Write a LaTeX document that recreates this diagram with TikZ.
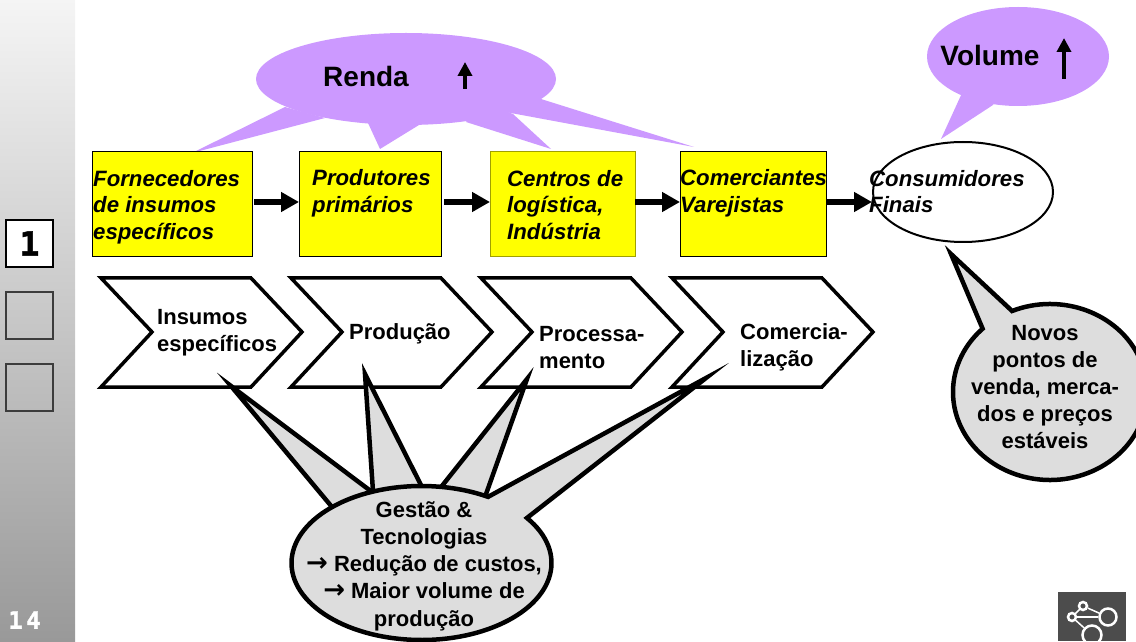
\documentclass[tikz,border=0pt]{standalone}
\usepackage{fontspec}
\setmainfont{Liberation Sans}
\newfontfamily\sidefont[BoldFeatures={FakeBold=1.5}]{DejaVu Sans Mono}
\newfontfamily\arrowfont{DejaVu Sans}
\usetikzlibrary{arrows.meta,calc,positioning,shapes.geometric}
\definecolor{balloon}{HTML}{CC99FF}
\definecolor{callout}{HTML}{DDDDDD}
\definecolor{sidedark}{HTML}{3C3C3C}
\definecolor{boxyellow}{HTML}{FFFF00}
\definecolor{boxolive}{HTML}{A0A000}
\tikzset{
	boxtext/.style = {anchor = west, inner sep = 0, align = left, font = \bfseries\itshape\fontsize{22.2}{26.5}\selectfont},
	plaintext/.style = {anchor = west, inner sep = 0, align = left, font = \bfseries\fontsize{22}{27}\selectfont},
	calltext/.style = {inner sep = 0, align = center, font = \bfseries\fontsize{22}{27.2}\selectfont},
	bigtext/.style = {inner sep = 0, font = \bfseries\fontsize{28}{30}\selectfont},
	yellowbox/.style = {rectangle, draw = black, line width = 1pt, fill = boxyellow, minimum height = 105pt, inner sep = 0, outer sep = 0},
	chevron/.style = {draw = black, line width = 3.5pt, fill = white, miter limit = 10},
	flow/.style = {line width = 6pt, -{Stealth[length = 18pt, width = 19pt, inset = 0pt]}},
	uparrow/.style = {line width = 4.5pt, -{Stealth[length = 14pt, width = 14pt, inset = 0pt]}},
	spikes/.style = {draw = black, line width = 4.5pt, fill = callout, miter limit = 40},
	sidebox/.style = {rectangle, draw = sidedark, line width = 1.5pt, minimum width = 47pt, minimum height = 47pt, inner sep = 0},
	logowheel/.style = {circle, draw = white, line width = 2.5pt, inner sep = 0}
}
\newcommand{\gestaopt}[1]{($(421.5,78)+(#1:130 and 77)$)}
\newcommand{\novospt}[1]{($(1050,249)+(#1:97 and 88)$)}
\newcommand{\bolddart}{{\arrowfont\bfseries\fontsize{26}{27}\selectfont →}}
\begin{document}
\begin{tikzpicture}[x = 1pt, y = 1pt]
	\useasboundingbox (0,0) rectangle (1136,641);
	\clip (0,0) rectangle (1136,641);
	\shade [top color = black!4, bottom color = black!40] (0,0) rectangle (75,641);
	\node (SideOne) [sidebox, draw = black, fill = white, font = \sidefont\bfseries\fontsize{33}{33}\selectfont] at (29.5,397.5) {1};
	\node (SideTwo) [sidebox, below of = SideOne, node distance = 72pt] {};
	\node (SideThree) [sidebox, below of = SideTwo, node distance = 72pt] {};
	\node (PageNumber) [text = white, font = \sidefont\bfseries\fontsize{24}{24}\selectfont] at (24.5,21) {1\kern3.5pt 4};

	\fill [balloon] (406,562) ellipse [x radius = 150, y radius = 46];
	\fill [balloon] (285,534) -- (192,488) -- (325,523) -- cycle;
	\fill [balloon] (368,518) -- (380,492) -- (419,516) -- (400,540) -- cycle;
	\fill [balloon] (466,519) -- (551,492) -- (513,527) -- (480,540) -- cycle;
	\fill [balloon] (500,530) -- (694,494) -- (541,542) -- cycle;
	\node (Renda) [bigtext] at (366,565) {Renda};
	\coordinate (RendaFrom) at (465,552);
	\coordinate (RendaTo) at (465,579);
	\draw [uparrow] (RendaFrom) -- (RendaTo);

	\fill [balloon] (1018,584.5) ellipse [x radius = 91, y radius = 49.5];
	\fill [balloon] (962,548) -- (941,502) -- (993,536) -- (1000,550) -- cycle;
	\node (Volume) [bigtext] at (990,586) {Volume};
	\coordinate (VolumeFrom) at (1064,562);
	\coordinate (VolumeTo) at (1064,603);
	\draw [uparrow] (VolumeFrom) -- (VolumeTo);

	\node (Fornecedores) [yellowbox, minimum width = 160pt] at (172,436.5) {};
	\node (Produtores) [yellowbox, minimum width = 142pt] at (370,436.5) {};
	\node (Centros) [yellowbox, draw = boxolive, minimum width = 145pt] at (562.5,436.5) {};
	\node (Comerciantes) [yellowbox, minimum width = 146pt] at (753,436.5) {};
	\node (Consumidores) [ellipse, draw = black, line width = 2pt, fill = white, minimum width = 180pt, minimum height = 100pt, inner sep = 0, outer sep = 0] at (963,449) {};
	\coordinate (ConsumidoresIn) at (872,439);

	\draw [flow] ([yshift = 2.5pt, xshift = 2pt]Fornecedores.east) -- ([yshift = 2.5pt]Produtores.west);
	\draw [flow] ([yshift = 2.5pt, xshift = 3pt]Produtores.east) -- ([yshift = 2.5pt]Centros.west);
	\draw [flow] ([yshift = 2.5pt]Centros.east) -- ([yshift = 2.5pt]Comerciantes.west);
	\draw [flow] ([yshift = 2.5pt]Comerciantes.east) -- (ConsumidoresIn);

	\node (FornecedoresText) [boxtext] at (93,434) {Fornecedores\\de insumos\\específicos};
	\node (ProdutoresText) [boxtext] at (312,447.5) {Produtores\\primários};
	\node (CentrosText) [boxtext] at (507,436) {Centros de\\logística,\\Indústria};
	\node (ComerciantesText) [boxtext] at (680,447.5) {Comerciantes\\Varejistas};
	\node (ConsumidoresText) [boxtext] at (869,449.5) {Consumidores\\Finais};

	\foreach \offset in {0,190,380,571}
		\draw [chevron, xshift = \offset pt] (101,363) -- (251,363) -- (302,309) -- (251,254) -- (101,254) -- (152,309) -- cycle;
	\node (Insumos) [plaintext] at (157,308) {Insumos\\específicos};
	\node (Producao) [plaintext] at (349,307) {Produção};
	\node (Processamento) [plaintext] at (539,293) {Processa-\\mento};
	\node (Comercializacao) [plaintext] at (740,293.5) {Comercia-\\lização};

	\draw [spikes] (342,122) -- (231,255) -- (384,140);
	\draw [spikes] (374,135) -- (365,267) -- (430,138);
	\draw [spikes] (426,135) -- (527,262) -- (480,130);
	\draw [spikes] \gestaopt{59.2} -- (706,263) -- \gestaopt{35.8}
		arc [start angle = 35.8, end angle = -300.8, x radius = 130, y radius = 77] -- cycle;
	\node (Gestao) [calltext] at (424,75) {Gestão \&\\Tecnologias\\\bolddart{} Redução de custos,\\\bolddart{} Maior volume de\\produção};

	\draw [spikes] \novospt{134} -- (951,387) -- \novospt{113}
		arc [start angle = 113, end angle = -226, x radius = 97, y radius = 88] -- cycle;
	\node (Novos) [calltext] at (1045,254) {Novos\\pontos de\\venda, merca-\\dos e preços\\estáveis};

	\fill [black!70] (1058,0) rectangle (1126,49);
	\node (LogoBig) [logowheel, minimum size = 17pt] at (1108,24) {};
	\node (LogoTop) [logowheel, minimum size = 8pt] at (1083,35) {};
	\node (LogoLeft) [logowheel, minimum size = 8pt] at (1072,24) {};
	\node (LogoBottom) [logowheel, minimum size = 19pt] at (1092,6) {};
	\draw [white, line width = 1.5pt] (LogoTop) -- (LogoBig);
	\draw [white, line width = 1.5pt] (LogoTop) -- (LogoLeft);
	\draw [white, line width = 1.5pt] (LogoLeft) -- (LogoBottom);
	\draw [white, line width = 1.5pt] (LogoLeft) -- (LogoBig);
\end{tikzpicture}
\end{document}
